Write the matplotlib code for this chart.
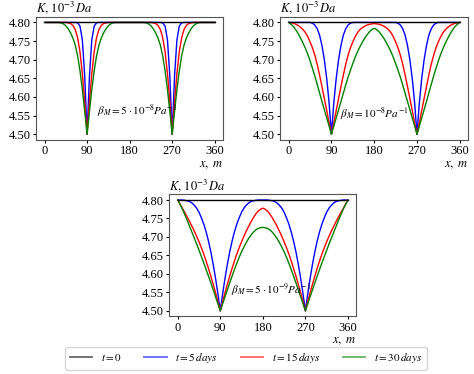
# ── IMPORTS ───────────────────────────────────────────────────────────────────

import matplotlib
matplotlib.use("Agg")
import matplotlib.pyplot as plt

plt.rcParams["font.family"] = "serif"
plt.rcParams["font.serif"] = ["Liberation Serif"]
plt.rcParams["mathtext.fontset"] = "stix"

# ── DATA (x every 5 m) ────────────────────────────────────────────────────────

x_m = list(range(0, 365, 5))
k_t0 = [4.80] * 73

# beta_M = 5e-8 Pa^-1
p1_t5 = ([4.800] * 14 + [4.799, 4.790, 4.753, 4.656, 4.500]
         + [4.656, 4.753, 4.790, 4.799] + [4.800] * 14
         + [4.800] * 13 + [4.799, 4.790, 4.753, 4.656, 4.500]
         + [4.656, 4.753, 4.790, 4.799] + [4.800] * 14)
p1_t15 = ([4.800] * 10 + [4.799, 4.797, 4.792, 4.781, 4.759, 4.721, 4.663, 4.587, 4.500]
          + [4.587, 4.663, 4.721, 4.759, 4.781, 4.792, 4.797, 4.799] + [4.800] * 10
          + [4.800] * 9 + [4.799, 4.797, 4.792, 4.781, 4.759, 4.721, 4.663, 4.587, 4.500]
          + [4.587, 4.663, 4.721, 4.759, 4.781, 4.792, 4.797, 4.799] + [4.800] * 10)
p1_t30 = ([4.800] * 7 + [4.799, 4.796, 4.791, 4.783, 4.772, 4.758, 4.739, 4.710,
                         4.670, 4.620, 4.561, 4.500]
          + [4.561, 4.620, 4.670, 4.710, 4.739, 4.758, 4.772, 4.783, 4.791, 4.796,
             4.799] + [4.800] * 7
          + [4.800] * 6 + [4.799, 4.796, 4.791, 4.783, 4.772, 4.758, 4.739, 4.710,
                           4.670, 4.620, 4.561, 4.500]
          + [4.561, 4.620, 4.670, 4.710, 4.739, 4.758, 4.772, 4.783, 4.791, 4.796,
             4.799] + [4.800] * 7)

# beta_M = 1e-8 Pa^-1
p2_t5 = ([4.800] * 10 + [4.798, 4.793, 4.783, 4.766, 4.738, 4.700, 4.650, 4.585, 4.500]
         + [4.585, 4.650, 4.700, 4.738, 4.766, 4.783, 4.793, 4.798] + [4.800] * 10
         + [4.800] * 9 + [4.798, 4.793, 4.783, 4.766, 4.738, 4.700, 4.650, 4.585, 4.500]
         + [4.585, 4.650, 4.700, 4.738, 4.766, 4.783, 4.793, 4.798] + [4.800] * 10)
p2_t15 = [4.800, 4.799, 4.798, 4.795, 4.792, 4.787, 4.781, 4.773, 4.762, 4.748,
          4.732, 4.712, 4.688, 4.659, 4.628, 4.596, 4.564, 4.531, 4.500,
          4.531, 4.564, 4.596, 4.628, 4.659, 4.688, 4.712, 4.732, 4.748, 4.762,
          4.773, 4.781, 4.786, 4.790, 4.793, 4.795, 4.796, 4.797,
          4.796, 4.795, 4.793, 4.790, 4.786, 4.781, 4.773, 4.762, 4.748, 4.732,
          4.712, 4.688, 4.659, 4.628, 4.596, 4.564, 4.531, 4.500,
          4.531, 4.564, 4.596, 4.628, 4.659, 4.688, 4.712, 4.732, 4.748, 4.762,
          4.773, 4.781, 4.787, 4.792, 4.795, 4.798, 4.799, 4.800]
p2_t30 = [4.800, 4.795, 4.789, 4.780, 4.770, 4.758, 4.745, 4.731, 4.715, 4.697,
          4.677, 4.656, 4.634, 4.611, 4.588, 4.566, 4.544, 4.522, 4.500,
          4.522, 4.544, 4.566, 4.588, 4.610, 4.632, 4.653, 4.672, 4.690, 4.707,
          4.722, 4.735, 4.747, 4.758, 4.767, 4.775, 4.781, 4.784,
          4.781, 4.775, 4.767, 4.758, 4.747, 4.735, 4.722, 4.707, 4.690, 4.672,
          4.653, 4.632, 4.610, 4.588, 4.566, 4.544, 4.522, 4.500,
          4.522, 4.544, 4.566, 4.588, 4.611, 4.634, 4.656, 4.677, 4.697, 4.715,
          4.731, 4.745, 4.758, 4.770, 4.780, 4.789, 4.795, 4.800]

# beta_M = 5e-9 Pa^-1
p3_t5 = [4.800, 4.800, 4.800, 4.799, 4.798, 4.796, 4.792, 4.786, 4.778, 4.767,
         4.752, 4.735, 4.714, 4.689, 4.660, 4.626, 4.588, 4.546, 4.500,
         4.546, 4.588, 4.626, 4.660, 4.689, 4.714, 4.735, 4.752, 4.767, 4.778,
         4.786, 4.792, 4.796, 4.798, 4.799, 4.800, 4.800, 4.800,
         4.800, 4.800, 4.799, 4.798, 4.796, 4.792, 4.786, 4.778, 4.767, 4.752,
         4.735, 4.714, 4.689, 4.660, 4.626, 4.588, 4.546, 4.500,
         4.546, 4.588, 4.626, 4.660, 4.689, 4.714, 4.735, 4.752, 4.767, 4.778,
         4.786, 4.792, 4.796, 4.798, 4.799, 4.800, 4.800, 4.800]
p3_t15 = [4.800, 4.789, 4.777, 4.766, 4.754, 4.742, 4.729, 4.716, 4.702, 4.687,
          4.671, 4.654, 4.635, 4.615, 4.594, 4.572, 4.549, 4.525, 4.500,
          4.525, 4.549, 4.572, 4.594, 4.615, 4.635, 4.654, 4.671, 4.687, 4.702,
          4.716, 4.729, 4.741, 4.752, 4.762, 4.770, 4.775, 4.778,
          4.775, 4.770, 4.762, 4.752, 4.741, 4.729, 4.716, 4.702, 4.687, 4.671,
          4.654, 4.635, 4.615, 4.594, 4.572, 4.549, 4.525, 4.500,
          4.525, 4.549, 4.572, 4.594, 4.615, 4.635, 4.654, 4.671, 4.687, 4.702,
          4.716, 4.729, 4.742, 4.754, 4.766, 4.777, 4.789, 4.800]
p3_t30 = [4.800, 4.788, 4.775, 4.760, 4.745, 4.729, 4.713, 4.697, 4.681, 4.664,
          4.647, 4.630, 4.612, 4.594, 4.576, 4.557, 4.538, 4.519, 4.500,
          4.519, 4.538, 4.557, 4.576, 4.594, 4.612, 4.629, 4.645, 4.660, 4.673,
          4.685, 4.696, 4.705, 4.713, 4.719, 4.723, 4.725, 4.726,
          4.725, 4.723, 4.719, 4.713, 4.705, 4.696, 4.685, 4.673, 4.660, 4.645,
          4.629, 4.612, 4.594, 4.576, 4.557, 4.538, 4.519, 4.500,
          4.519, 4.538, 4.557, 4.576, 4.594, 4.612, 4.630, 4.647, 4.664, 4.681,
          4.697, 4.713, 4.729, 4.745, 4.760, 4.775, 4.788, 4.800]

x_ticks = [0, 90, 180, 270, 360]
y_ticks = [4.50, 4.55, 4.60, 4.65, 4.70, 4.75, 4.80]
legend_labels = [r"$t = 0$", r"$t = 5\,days$", r"$t = 15\,days$", r"$t = 30\,days$"]
beta_labels = [r"$\beta_M = 5\cdot10^{-8}Pa^{-1}$",
               r"$\beta_M = 10^{-8}Pa^{-1}$",
               r"$\beta_M = 5\cdot10^{-9}Pa^{-1}$"]

# ── FIGURE ────────────────────────────────────────────────────────────────────

fig = plt.figure(figsize=(4.74, 3.74), dpi=100)

# axes boxes in figure fractions (left, bottom, width, height)
boxes = [[0.076, 0.626, 0.395, 0.329],
         [0.591, 0.626, 0.397, 0.329],
         [0.357, 0.154, 0.395, 0.326]]
curves = [(p1_t5, p1_t15, p1_t30), (p2_t5, p2_t15, p2_t30), (p3_t5, p3_t15, p3_t30)]
beta_pos = [(110, 4.562), (108, 4.556), (112, 4.557)]

handles = None
for box, (k5, k15, k30), label, (bx, by) in zip(boxes, curves, beta_labels, beta_pos):
    ax = fig.add_axes(box)
    h0, = ax.plot(x_m, k_t0, color="black", lw=1.0, zorder=4)
    h1, = ax.plot(x_m, k5, color="blue", lw=1.0)
    h2, = ax.plot(x_m, k15, color="red", lw=1.0)
    h3, = ax.plot(x_m, k30, color="green", lw=1.0)
    handles = [h0, h1, h2, h3]

    ax.set_xticks(x_ticks)
    ax.set_yticks(y_ticks)
    ax.set_yticklabels([f"{v:.2f}" for v in y_ticks])
    ax.tick_params(labelsize=9, length=2.5, pad=1.5)
    for sp in ax.spines.values():
        sp.set_color("#555555")

    ax.text(0.0, 1.005, r"$K,\, 10^{-3}\,Da$", transform=ax.transAxes,
            ha="left", va="bottom", fontsize=9)
    ax.text(1.0, -0.155, r"$x,\ m$", transform=ax.transAxes,
            ha="right", va="top", fontsize=9)
    ax.text(bx, by, label, ha="left", va="center", fontsize=8)

leg = fig.legend(handles, legend_labels, loc="center", bbox_to_anchor=(0.519, 0.042),
                 ncol=4, fontsize=8, handlelength=2.0, columnspacing=2.0)
# legend lines look paler than the curves in the original
for line in leg.get_lines():
    line.set_alpha(0.55)
    line.set_linewidth(1.4)

fig.savefig("out.png", dpi=100)
